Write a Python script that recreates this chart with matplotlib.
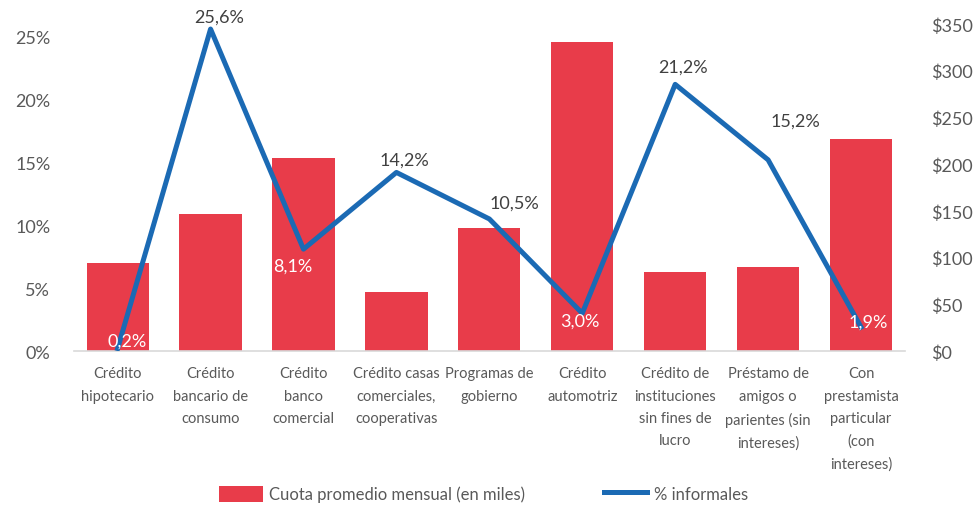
import matplotlib.pyplot as plt
import numpy as np
from matplotlib.ticker import FuncFormatter, MultipleLocator

# data
categorias = [
    "Crédito\nhipotecario",
    "Crédito\nbancario de\nconsumo",
    "Crédito\nbanco\ncomercial",
    "Crédito casas\ncomerciales,\ncooperativas",
    "Programas de\ngobierno",
    "Crédito\nautomotriz",
    "Crédito de\ninstituciones\nsin fines de\nlucro",
    "Préstamo de\namigos o\nparientes (sin\nintereses)",
    "Con\nprestamista\nparticular\n(con\nintereses)",
]
cuota_miles = [94, 147, 207, 63, 132, 331, 85, 90, 227]
pct_informales = [0.2, 25.6, 8.1, 14.2, 10.5, 3.0, 21.2, 15.2, 1.9]
etiquetas = ["0,2%", "25,6%", "8,1%", "14,2%", "10,5%", "3,0%", "21,2%", "15,2%", "1,9%"]

# label placement (offset in points) per point, white ones sit on the bars
offsets = [(7, 6), (6, 9), (-8, -12), (6, 9), (18, 12), (-2, -5), (6, 13), (20, 28), (5, 4)]
dentro = [True, False, True, False, False, True, False, False, True]

rojo = "#E83C4A"
azul = "#1B6AB4"
gris = "#595959"

plt.rcParams["font.family"] = ["Lato", "DejaVu Sans"]

fig = plt.figure(figsize=(9.77, 5.06), dpi=100)
ax = fig.add_axes([0.0757, 0.3043, 0.8503, 0.6463])
ax2 = ax.twinx()

x = np.arange(len(categorias))

# bars on the right ($) axis, line on the left (%) axis
ax2.bar(x, cuota_miles, width=0.67, color=rojo, zorder=1,
        label="Cuota promedio mensual (en miles)")
ax2.set_ylim(0, 350)
ax2.yaxis.set_major_locator(MultipleLocator(50))
ax2.yaxis.set_major_formatter(FuncFormatter(lambda v, p: f"${v:.0f}"))

ax.set_zorder(ax2.get_zorder() + 1)
ax.patch.set_visible(False)
ax.plot(x, pct_informales, color=azul, lw=3.6, solid_joinstyle="round",
        label="% informales", zorder=3)
ax.set_ylim(0, 26.0)
ax.yaxis.set_major_locator(MultipleLocator(5))
ax.yaxis.set_major_formatter(FuncFormatter(lambda v, p: f"{v:.0f}%"))
ax.set_xlim(-0.47, len(categorias) - 1 + 0.47)

for i, (val, txt) in enumerate(zip(pct_informales, etiquetas)):
    ax.annotate(txt, (x[i], val), xytext=offsets[i], textcoords="offset points",
                ha="center", va="center", fontsize=13,
                color="white" if dentro[i] else "#404040", zorder=4)

ax.set_xticks(x)
ax.set_xticklabels(categorias, fontsize=10.5, color=gris, linespacing=1.75)
ax.tick_params(axis="x", length=0, pad=11)
ax.tick_params(axis="y", length=0, labelsize=13, labelcolor=gris, pad=17)
ax2.tick_params(axis="y", length=0, labelsize=13, labelcolor=gris, pad=19)

for a in (ax, ax2):
    for s in a.spines.values():
        s.set_visible(False)
ax.spines["bottom"].set_visible(True)
ax.spines["bottom"].set_color("#D9D9D9")
ax.spines["bottom"].set_linewidth(1.2)

h1, l1 = ax2.get_legend_handles_labels()
h2, l2 = ax.get_legend_handles_labels()
fig.legend(h1 + h2, l1 + l2, loc="center", bbox_to_anchor=(0.495, 0.022), ncol=2,
           frameon=False, fontsize=12, labelcolor=gris, handlelength=2.6,
           handleheight=1.1, columnspacing=4.7, handletextpad=0.4)

fig.savefig("out.png", dpi=100)
